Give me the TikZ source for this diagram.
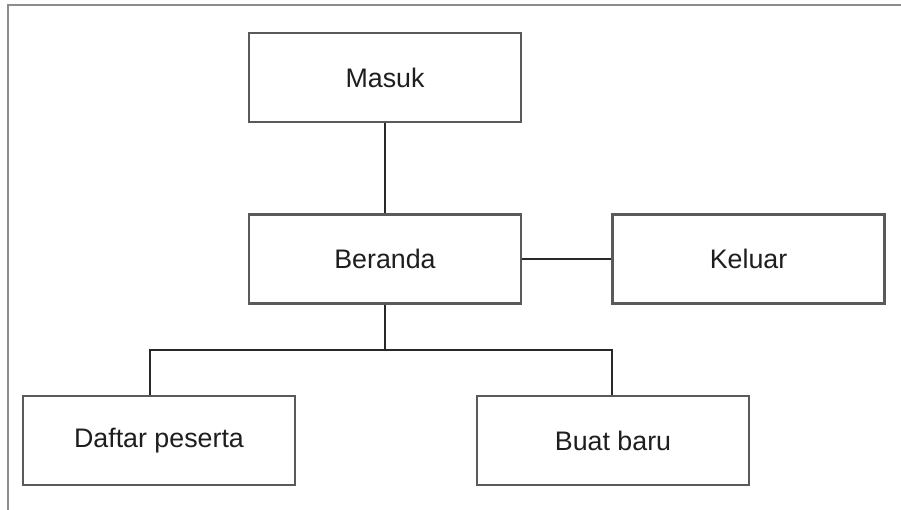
\documentclass[tikz,border=0pt]{standalone}
\usepackage{fontspec}
\setmainfont{Liberation Sans}
\definecolor{boxline}{RGB}{90,90,90}
\definecolor{conn}{RGB}{40,40,40}
\definecolor{frame}{RGB}{140,140,140}
\definecolor{txt}{RGB}{30,30,30}
\begin{document}
\begin{tikzpicture}[x=1pt,y=-1pt,
  menubox/.style={draw=boxline, line width=2.2pt, fill=white, minimum width=272pt, minimum height=89pt, inner sep=0pt, text=txt, font=\fontsize{26.8}{31}\selectfont},
  link/.style={draw=conn, line width=1.6pt}]
\useasboundingbox (0,0) rectangle (901,510);
\fill[white] (0,0) rectangle (901,510);
\draw[frame, line width=1.5pt] (8,510) -- (8,5) -- (901,5);
\node[menubox] (masuk) at (385,77.5) {Masuk};
\node[menubox] (beranda) at (385,259) {Beranda};
\node[menubox] (keluar) at (748.5,259) {Keluar};
\node[menubox] (daftar) at (159,440.5) {Daftar peserta};
\node[menubox] (buat) at (613,440.5) {Buat baru};
\coordinate (bus) at (385,350);
\coordinate (dl) at (150,395);
\coordinate (br) at (612,395);
\draw[link] (masuk.south) -- (beranda.north);
\draw[link] (beranda.east) -- (keluar.west);
\draw[link] (beranda.south) -- (bus);
\draw[link] (bus) -| (dl);
\draw[link] (bus) -| (br);
\end{tikzpicture}
\end{document}
